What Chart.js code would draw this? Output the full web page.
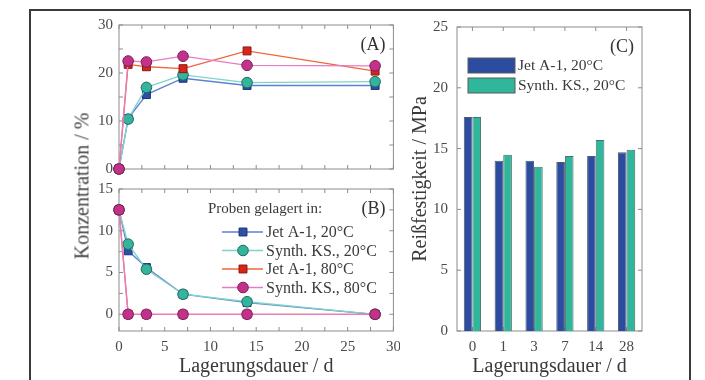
<!DOCTYPE html>
<html>
<head>
<meta charset="utf-8">
<script src="https://cdn.jsdelivr.net/npm/chart.js@4/dist/chart.umd.min.js"></script>
<style>
    body { margin: 0; background: #fff; width: 705px; height: 380px; overflow: hidden; position: relative; font-family: 'Liberation Serif', serif; }
    canvas { position: absolute; }
    #frame { position: absolute; left: 29px; top: 9px; width: 658px; height: 420px; border: 2px solid #3a3a3a; border-bottom: none; }
    #ylab { position: absolute; left: 82px; top: 186px; transform: translate(-50%, -50%) rotate(-90deg); font-size: 20px; color: #444; white-space: nowrap; }
</style>
</head>
<body>
<div id="frame"></div>
<canvas id="chartA" width="400" height="180" style="left:0;top:0;width:400px;height:180px"></canvas>
<canvas id="chartB" width="400" height="200" style="left:0;top:180px;width:400px;height:200px"></canvas>
<canvas id="chartC" width="305" height="380" style="left:400px;top:0;width:305px;height:380px"></canvas>
<div id="ylab">Konzentration / %</div>
<script>
// Lagerungsdauer (Tage)
const days = [0, 1, 3, 7, 14, 28];

// (A) Konzentration aufgenommen
const concJet20 = [0, 10.5, 15.5, 18.9, 17.4, 17.4];
const concSyn20 = [0, 10.4, 17.0, 19.6, 18.0, 18.2];
const concJet80 = [0, 21.8, 21.3, 20.9, 24.6, 20.4];
const concSyn80 = [0, 22.5, 22.3, 23.5, 21.6, 21.5];

// (B) Restkonzentration
const restJet20 = [12.5, 7.6, 5.6, 2.4, 1.4, 0];
const restSyn20 = [12.5, 8.4, 5.4, 2.4, 1.5, 0];
const restJet80 = [12.5, 0, 0, 0, 0, 0];
const restSyn80 = [12.5, 0, 0, 0, 0, 0];

// (C) Reißfestigkeit
const barDays = ['0', '1', '3', '7', '14', '28'];
const strengthJet20 = [17.6, 14.0, 14.0, 13.9, 14.4, 14.7];
const strengthSyn20 = [17.6, 14.5, 13.5, 14.4, 15.7, 14.9];

const concTicks = [0, 10, 20, 30];
const restTicks = [0, 5, 10, 15];
const seriesNames = ['Jet A-1, 20°C', 'Synth. KS., 20°C', 'Jet A-1, 80°C', 'Synth. KS., 80°C'];

const tickColor = '#4a4a4a';
const titleColor = '#3a3a3a';
Chart.defaults.font.family = "'Liberation Serif', serif";

// Stil je Serie
const styles = [
    { line: '#5d7fd6', fill: '#2b50a6', edge: '#1c3372', shape: 'rect', order: 3 },
    { line: '#7fd3c9', fill: '#32b59c', edge: '#23665f', shape: 'circle', order: 2 },
    { line: '#f0663c', fill: '#d6261a', edge: '#8e1610', shape: 'rect', order: 1 },
    { line: '#e77cc4', fill: '#c2328a', edge: '#7a1e58', shape: 'circle', order: 0 }
];

function makeSets(series) {
    return series.map((vals, i) => ({
        label: seriesNames[i],
        data: days.map((d, k) => ({ x: d, y: vals[k] })),
        borderColor: styles[i].line,
        borderWidth: 1.3,
        backgroundColor: styles[i].fill,
        pointBackgroundColor: styles[i].fill,
        pointBorderColor: styles[i].edge,
        pointBorderWidth: 1,
        pointStyle: styles[i].shape,
        pointRadius: styles[i].shape === 'rect' ? 5.6 : 5.3,
        order: styles[i].order,
        tension: 0,
        clip: false
    }));
}

// keine automatische Randpolsterung durch Tick-Labels
function fixY(w) {
    return s => { s.width = w; s.paddingTop = 0; s.paddingBottom = 0; };
}
function fixX(h) {
    return s => { s.height = h; s.paddingLeft = 0; s.paddingRight = 0; };
}

function marker(ctx, shape, x, y, r, fill, edge) {
    ctx.beginPath();
    if (shape === 'rect') {
        const s = r * Math.SQRT1_2;
        ctx.rect(x - s, y - s, 2 * s, 2 * s);
    } else {
        ctx.arc(x, y, r, 0, Math.PI * 2);
    }
    ctx.fillStyle = fill;
    ctx.fill();
    ctx.strokeStyle = edge;
    ctx.lineWidth = 1;
    ctx.stroke();
}

// Rahmen, Innen-Ticks, Panel-Buchstabe und Legende
const panel = {
    id: 'panel',
    beforeDatasetsDraw(chart, args, o) {
        const { ctx, chartArea: a, scales } = chart;
        ctx.save();
        ctx.strokeStyle = '#8c8c8c';
        ctx.lineWidth = 1;
        ctx.strokeRect(a.left, a.top, a.width, a.height);
        ctx.beginPath();
        const tl = 4;
        if (o.xStep) {
            for (let v = scales.x.min; v <= scales.x.max + 1e-6; v += o.xStep) {
                const x = scales.x.getPixelForValue(v);
                ctx.moveTo(x, a.top); ctx.lineTo(x, a.top + tl);
                ctx.moveTo(x, a.bottom); ctx.lineTo(x, a.bottom - tl);
            }
        } else {
            scales.x.ticks.forEach((t, i) => {
                const x = scales.x.getPixelForTick(i);
                ctx.moveTo(x, a.top); ctx.lineTo(x, a.top + tl);
                ctx.moveTo(x, a.bottom); ctx.lineTo(x, a.bottom - tl);
            });
        }
        const y0 = Math.ceil(scales.y.min / o.yStep) * o.yStep;
        for (let v = y0; v <= scales.y.max + 1e-6; v += o.yStep) {
            const y = scales.y.getPixelForValue(v);
            ctx.moveTo(a.left, y); ctx.lineTo(a.left + tl, y);
            ctx.moveTo(a.right, y); ctx.lineTo(a.right - tl, y);
        }
        ctx.stroke();
        ctx.restore();
    },
    afterDraw(chart, args, o) {
        const { ctx, chartArea: a } = chart;
        ctx.save();
        ctx.fillStyle = '#333';
        ctx.font = "18px 'Liberation Serif'";
        ctx.textAlign = 'right';
        ctx.textBaseline = 'middle';
        ctx.fillText(o.label, a.right - 8, a.top + 20);

        if (o.legend === 'lines') {
            ctx.textAlign = 'left';
            ctx.font = "15px 'Liberation Serif'";
            ctx.fillStyle = titleColor;
            ctx.fillText('Proben gelagert in:', a.left + 89, a.top + 20);
            ctx.font = "16px 'Liberation Serif'";
            chart.data.datasets.forEach((ds, i) => {
                const y = a.top + 43 + i * 18.5;
                ctx.strokeStyle = ds.borderColor;
                ctx.lineWidth = 1.3;
                ctx.beginPath();
                ctx.moveTo(a.left + 103, y);
                ctx.lineTo(a.left + 144, y);
                ctx.stroke();
                marker(ctx, ds.pointStyle, a.left + 124, y, ds.pointRadius, ds.pointBackgroundColor, ds.pointBorderColor);
                ctx.fillStyle = titleColor;
                ctx.fillText(ds.label, a.left + 147, y + 1);
            });
        }
        if (o.legend === 'boxes') {
            ctx.textAlign = 'left';
            ctx.font = "15.5px 'Liberation Serif'";
            chart.data.datasets.forEach((ds, i) => {
                const y = a.top + 31 + i * 20;
                ctx.fillStyle = ds.backgroundColor;
                ctx.fillRect(a.left + 11, y, 47, 15);
                ctx.strokeStyle = '#5a5a5a';
                ctx.lineWidth = 1;
                ctx.strokeRect(a.left + 11, y, 47, 15);
                ctx.fillStyle = titleColor;
                ctx.fillText(ds.label, a.left + 61, y + 8);
            });
        }
        ctx.restore();
    }
};
Chart.register(panel);

const tickFont = { size: 15 };
const axisTitle = { size: 20 };
const noGrid = { display: false, drawTicks: false };

// (A)
new Chart(document.getElementById('chartA'), {
    type: 'line',
    data: { datasets: makeSets([concJet20, concSyn20, concJet80, concSyn80]) },
    options: {
        responsive: false,
        animation: false,
        layout: { padding: { left: 0, right: 4, top: 25, bottom: 11 } },
        plugins: {
            legend: { display: false },
            tooltip: { enabled: false },
            panel: { label: '(A)', xStep: 2.5, yStep: 5 }
        },
        scales: {
            x: { type: 'linear', min: 0, max: 30, display: false },
            y: {
                min: 0, max: 30,
                afterBuildTicks: s => { s.ticks = concTicks.map(v => ({ value: v })); },
                ticks: { padding: 6, color: tickColor, font: tickFont },
                grid: noGrid,
                border: { display: false },
                afterFit: fixY(119)
            }
        }
    }
});

// (B)
new Chart(document.getElementById('chartB'), {
    type: 'line',
    data: { datasets: makeSets([restJet20, restSyn20, restJet80, restSyn80]) },
    options: {
        responsive: false,
        animation: false,
        layout: { padding: { left: 0, right: 4, top: 9, bottom: 0 } },
        plugins: {
            legend: { display: false },
            tooltip: { enabled: false },
            panel: { label: '(B)', xStep: 2.5, yStep: 2.5, legend: 'lines' }
        },
        scales: {
            x: {
                type: 'linear', min: 0, max: 30,
                ticks: { stepSize: 5, padding: 7, color: tickColor, font: tickFont, maxRotation: 0 },
                grid: noGrid,
                border: { display: false },
                title: { display: true, text: 'Lagerungsdauer / d', color: titleColor, font: axisTitle, padding: { top: 0, bottom: 1 } },
                afterFit: fixX(49)
            },
            y: {
                min: -2, max: 15,
                afterBuildTicks: s => { s.ticks = restTicks.map(v => ({ value: v })); },
                ticks: { padding: 6, color: tickColor, font: tickFont },
                grid: noGrid,
                border: { display: false },
                afterFit: fixY(119)
            }
        }
    }
});

// (C)
new Chart(document.getElementById('chartC'), {
    type: 'bar',
    data: {
        labels: barDays,
        datasets: [
            { label: 'Jet A-1, 20°C', data: strengthJet20, backgroundColor: '#2b4c9f', borderColor: '#4f5a72', borderWidth: 1 },
            { label: 'Synth. KS., 20°C', data: strengthSyn20, backgroundColor: '#2fb69b', borderColor: '#4d6f6a', borderWidth: 1 }
        ]
    },
    options: {
        responsive: false,
        animation: false,
        layout: { padding: { left: 0, right: 63, top: 27, bottom: 0 } },
        datasets: { bar: { categoryPercentage: 0.56, barPercentage: 1.0 } },
        plugins: {
            legend: { display: false },
            tooltip: { enabled: false },
            panel: { label: '(C)', yStep: 5, legend: 'boxes' }
        },
        scales: {
            x: {
                ticks: { padding: 7, color: tickColor, font: tickFont, maxRotation: 0 },
                grid: noGrid,
                border: { display: false },
                title: { display: true, text: 'Lagerungsdauer / d', color: titleColor, font: axisTitle, padding: { top: 0, bottom: 1 } },
                afterFit: fixX(49)
            },
            y: {
                min: 0, max: 25,
                ticks: { stepSize: 5, padding: 9, color: tickColor, font: tickFont },
                grid: noGrid,
                border: { display: false },
                title: { display: true, text: 'Reißfestigkeit / MPa', color: titleColor, font: axisTitle, padding: { top: 9, bottom: 0 } },
                afterFit: fixY(57)
            }
        }
    }
});
</script>
</body>
</html>
